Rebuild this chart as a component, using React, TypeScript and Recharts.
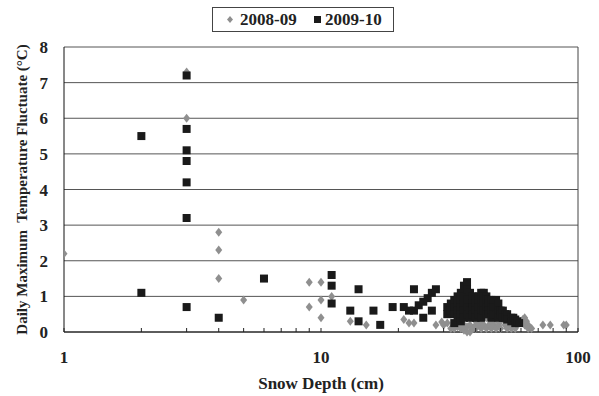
import React from 'react'
import {
  ScatterChart,
  Scatter,
  XAxis,
  YAxis,
  CartesianGrid,
  ReferenceLine,
} from 'recharts'

const FONT = '"Liberation Serif", "Times New Roman", serif'

const seriesNames = ['2008-09', '2009-10']

// 2008-09 (grey diamonds)
const depth0809 = [
  1, 3, 3, 4, 4, 4, 5, 9, 9, 10, 10, 10, 11, 13, 15, 21, 22, 23, 28, 29.5, 30, 31, 32,
  33, 33, 34, 35, 35, 36, 36, 37, 37, 38, 38, 39, 40, 40, 40, 41, 42, 42, 43, 43, 44, 44,
  45, 46, 46, 47, 48, 48, 49, 50, 50, 52, 52, 53, 54, 55, 55, 57, 58, 60, 61, 62, 62, 63,
  64, 64, 66, 73, 78, 88, 90,
]
const fluct0809 = [
  2.2, 7.3, 6.0, 2.8, 2.3, 1.5, 0.9, 1.4, 0.7, 1.4, 0.9, 0.4, 1.0, 0.3, 0.2, 0.35, 0.25, 0.25, 0.2, 0.28, 0.2, 0.25, 0.1,
  0.1, 0.2, 0.15, 0.1, 0.3, 0.05, 0.2, 0.0, 0.15, 0.0, 0.2, 0.1, 0.2, 0.1, 0.3, 0.2, 0.1, 0.3, 0.2, 0.45, 0.1, 0.4,
  0.2, 0.3, 0.1, 0.2, 0.1, 0.35, 0.2, 0.1, 0.3, 0.2, 0.4, 0.1, 0.2, 0.1, 0.3, 0.1, 0.2, 0.3, 0.35, 0.4, 0.2, 0.3,
  0.2, 0.1, 0.1, 0.2, 0.2, 0.2, 0.2,
]

// 2009-10 (black squares)
const depth0910 = [
  2, 2, 3, 3, 3, 3, 3, 3, 3, 4, 6, 11, 11, 11, 13, 14, 14, 16, 17, 19,
  21, 22, 23, 24, 25, 26, 27, 28, 23, 27, 25,
  31, 31, 32, 32, 33, 33, 33, 33, 34, 34, 34, 34, 35, 35, 35, 35, 35,
  36, 36, 36, 36, 36, 37, 37, 37, 37, 37, 38, 38, 38, 38, 38,
  39, 39, 39, 39, 40, 40, 40, 40, 41, 41, 41, 41, 42, 42, 42, 42, 42,
  43, 43, 43, 43, 44, 44, 44, 44, 45, 45, 45, 45, 46, 46, 46, 46,
  47, 47, 47, 48, 48, 48, 49, 49, 49, 50, 50, 51, 51, 52, 52,
  53, 53, 55, 55, 56, 57, 57, 58, 59,
]
const fluct0910 = [
  5.5, 1.1, 7.2, 5.7, 5.1, 4.8, 4.2, 3.2, 0.7, 0.4, 1.5, 1.6, 1.3, 0.8, 0.6, 1.2, 0.3, 0.6, 0.2, 0.7,
  0.7, 0.6, 0.6, 0.75, 0.85, 0.95, 1.1, 1.2, 1.2, 0.6, 0.4,
  0.7, 0.5, 0.8, 0.6, 0.9, 0.7, 0.5, 0.25, 1.0, 0.8, 0.6, 0.4, 1.1, 0.9, 0.7, 0.5, 0.3,
  1.3, 1.0, 0.8, 0.6, 0.4, 1.4, 1.2, 0.9, 0.7, 0.5, 1.1, 0.9, 0.7, 0.6, 0.4,
  1.0, 0.8, 0.7, 0.5, 0.9, 0.8, 0.6, 0.4, 1.0, 0.8, 0.7, 0.5, 1.1, 0.9, 0.7, 0.6, 0.4,
  1.1, 1.0, 0.8, 0.6, 1.0, 0.9, 0.7, 0.5, 0.9, 0.8, 0.6, 0.5, 0.9, 0.7, 0.6, 0.4,
  0.8, 0.7, 0.5, 0.9, 0.7, 0.5, 0.8, 0.6, 0.4, 0.6, 0.5, 0.6, 0.4, 0.5, 0.4,
  0.5, 0.35, 0.4, 0.3, 0.4, 0.35, 0.25, 0.3, 0.25,
]

const xTicks = [1, 2, 3, 4, 5, 6, 7, 8, 9, 10, 20, 30, 40, 50, 60, 70, 80, 90, 100]
const xLabels = [1, 10, 100]
const yTicks = [0, 1, 2, 3, 4, 5, 6, 7, 8]

const data0809 = depth0809.map((x, i) => ({ x, y: fluct0809[i] }))
const data0910 = depth0910.map((x, i) => ({ x, y: fluct0910[i] }))

const GREY = '#8f8f8f'
const BLACK = '#1a1a1a'

function Diamond(props: any) {
  const { cx, cy } = props
  return <polygon points={`${cx},${cy - 4.5} ${cx + 3.5},${cy} ${cx},${cy + 4.5} ${cx - 3.5},${cy}`} fill={GREY} />
}

function Square(props: any) {
  const { cx, cy } = props
  return <rect x={cx - 4} y={cy - 4} width={8} height={8} fill={BLACK} />
}

function XTick(props: any) {
  const { x, y, payload } = props
  const v = payload.value
  return (
    <g>
      <line x1={x} x2={x} y1={y} y2={y - 4} stroke="#222" />
      {xLabels.includes(v) && (
        <text x={x} y={y + 31} textAnchor="middle" fontFamily={FONT} fontWeight="bold" fontSize={17} fill="#222">
          {v}
        </text>
      )}
    </g>
  )
}

function YTitle(props: any) {
  const vb = props.viewBox
  const cy = vb.y + vb.height / 2
  return (
    <text
      x={22}
      y={cy}
      transform={`rotate(-90, 22, ${cy})`}
      textAnchor="middle"
      dominantBaseline="central"
      fontFamily={FONT}
      fontWeight="bold"
      fontSize={15}
      fill="#222"
      style={{ whiteSpace: 'pre' }}
    >
      {'Daily Maximum  Temperature Fluctuate (°C)'}
    </text>
  )
}

function LegendBox() {
  return (
    <svg width={184} height={27} style={{ position: 'absolute', left: 211, top: 6 }}>
      <rect x={1.5} y={1.5} width={181} height={24} fill="#fff" stroke="#444" />
      <polygon points="19,10 22,13.5 19,17 16,13.5" fill={GREY} />
      <text x={29} y={19} fontFamily={FONT} fontWeight="bold" fontSize={17} fill="#222">
        {seriesNames[0]}
      </text>
      <rect x={103} y={10} width={7} height={7} fill={BLACK} />
      <text x={114} y={19} fontFamily={FONT} fontWeight="bold" fontSize={17} fill="#222">
        {seriesNames[1]}
      </text>
    </svg>
  )
}

export default function App() {
  return (
    <div style={{ position: 'absolute', left: 0, top: 0, width: 599, height: 396, background: '#fff' }}>
      <ScatterChart width={599} height={396} margin={{ top: 47, right: 21, bottom: 0, left: 0 }}>
        <CartesianGrid vertical={false} stroke="#555" strokeWidth={1} />
        <XAxis
          type="number"
          dataKey="x"
          scale="log"
          domain={[1, 100]}
          ticks={xTicks}
          interval={0}
          height={64}
          tickSize={0}
          tickMargin={0}
          tickLine={false}
          axisLine={{ stroke: '#111' }}
          tick={<XTick />}
          allowDataOverflow
          label={{
            value: 'Snow Depth (cm)',
            position: 'insideBottom',
            offset: 7,
            fontFamily: FONT,
            fontWeight: 'bold',
            fontSize: 17,
            fill: '#222',
          }}
        />
        <YAxis
          type="number"
          dataKey="y"
          domain={[0, 8]}
          ticks={yTicks}
          width={64}
          tickLine={false}
          tickSize={8}
          tickMargin={8}
          axisLine={{ stroke: '#111' }}
          tick={{ fontFamily: FONT, fontWeight: 'bold', fontSize: 17, fill: '#222' }}
          label={{ content: <YTitle /> }}
        />
        <ReferenceLine x={100} stroke="#444" />
        <Scatter name={seriesNames[0]} data={data0809} shape={<Diamond />} isAnimationActive={false} />
        <Scatter name={seriesNames[1]} data={data0910} shape={<Square />} isAnimationActive={false} />
      </ScatterChart>
      <LegendBox />
    </div>
  )
}
